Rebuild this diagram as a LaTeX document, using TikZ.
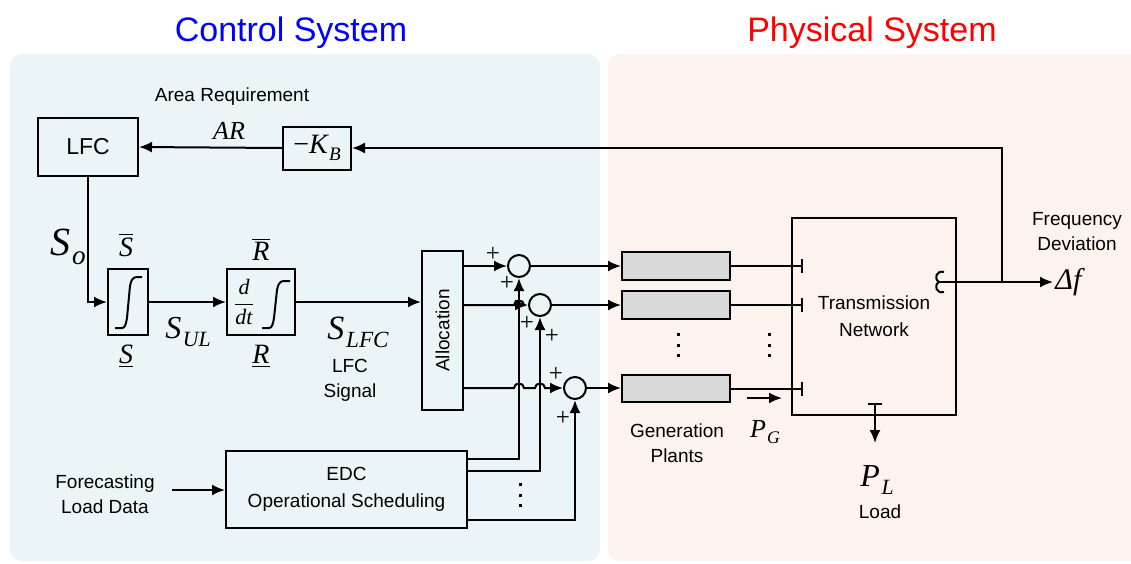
\documentclass[tikz,border=0pt]{standalone}
\usepackage{fontspec}
\setmainfont{Liberation Sans}
\newfontfamily\tms{Liberation Serif}
\usetikzlibrary{arrows.meta}
\definecolor{ctrlbg}{HTML}{EBF5F8}
\definecolor{physbg}{HTML}{FDF3EE}
\definecolor{genfill}{HTML}{D9D9D9}
% italic variable, with and without subscript
\newcommand\vi[2][14]{{\fontsize{#1}{#1}\tms\itshape #2}}
\newcommand\vsym[3][16]{{\fontsize{#1}{#1}\tms\itshape #2\kern0.05em\raisebox{-0.5ex}{\scalebox{0.68}{#3}}}}
\tikzset{
  blk/.style={draw, line width=1pt, inner sep=0pt, align=center, font=\fontsize{9.5}{13.5}\selectfont},
  gen/.style={blk, fill=genfill, minimum width=54pt, minimum height=14pt},
  sumc/.style={draw, circle, line width=1pt, minimum size=11pt, inner sep=0pt},
  sig/.style={line width=1pt, -{Latex[length=6.5pt,width=5.5pt]}},
  wire/.style={line width=1pt},
  tee/.style={line width=1pt, -{Bar[width=7pt,line width=1pt]}},
  lbl/.style={font=\fontsize{9.5}{12.5}\selectfont, align=center, inner sep=0pt},
  pls/.style={font=\fontsize{12.5}{12}\selectfont\tms, inner sep=0pt},
}
\begin{document}
\begin{tikzpicture}[x=0.5pt, y=-0.5pt]
  \useasboundingbox (0,0) rectangle (1131,563);
  % panels
  \fill[ctrlbg, rounded corners=6pt] (10,54) rectangle (600,561);
  \fill[physbg, rounded corners=6pt] (608,54) rectangle (1150,561);
  \node[text=blue, font=\fontsize{17}{17}\selectfont] (ctitle) at (291,33) {Control System};
  \node[text=red, font=\fontsize{17}{17}\selectfont] (ptitle) at (872,33) {Physical System};

  % control blocks
  \node[blk, minimum width=50pt, minimum height=29pt, font=\fontsize{11.5}{12}\selectfont] (lfc) at (88,147) {LFC};
  \node[blk, minimum width=34pt, minimum height=21.5pt] (kb) at (317,148) {\vsym[14]{{\upshape −}K}{B}};
  \node[lbl] (areq) at (232,97) {Area Requirement};
  \node (ar) at (229,131) {\vi[13]{AR}};
  \node[blk, minimum width=20pt, minimum height=33pt] (lim) at (128,302) {};
  \node[blk, minimum width=34pt, minimum height=33pt] (rate) at (261,302) {};
  \node[inner sep=0pt, font=\fontsize{11}{13}\selectfont] (ddt) at (244,302) {$\displaystyle\frac{\hbox{\tms\itshape d}}{\hbox{\tms\itshape dt}}$};
  \draw[wire] (115,328) -- (122,328) .. controls (125,328) and (126,324) .. (127,318) -- (130,286) .. controls (131,280) and (133,277) .. (137,277) -- (142,277);
  \draw[wire] (262,328) -- (269,328) .. controls (272,328) and (273,324) .. (274,318) -- (277,290) .. controls (278,284) and (280,281) .. (284,281) -- (290,281);
  \node[blk, minimum width=20.5pt, minimum height=79.5pt] (alloc) at (442.5,330.5) {\rotatebox{90}{Allocation}};
  \node[blk, minimum width=120.5pt, minimum height=38.5pt] (edc) at (346.5,489.5) {EDC\\Operational Scheduling};
  \node[sumc] (c1) at (519,266) {};
  \node[sumc] (c2) at (540,305) {};
  \node[sumc] (c3) at (575,388) {};

  % control labels
  \node (so) at (68,247) {\vsym[20]{S}{o}};
  \node (smax) at (126,245) {$\overline{\hbox{\vi{S}}}$};
  \node (smin) at (126,356) {\underline{\vi{S}}};
  \node (rmax) at (261,249) {$\overline{\hbox{\vi{R}}}$};
  \node (rmin) at (261,356) {\underline{\vi{R}}};
  \node (sul) at (188,332) {\vsym[16]{S}{UL}};
  \node (slfc) at (358,332) {\vsym[17]{S}{LFC}};
  \node[lbl] (lsig) at (350,380) {LFC\\Signal};
  \node[lbl] (fld) at (105,494) {Forecasting\\Load Data};
  \coordinate (fcin) at (172,490);
  \node[pls] (p1a) at (493,254) {+};
  \node[pls] (p1b) at (507,283) {+};
  \node[pls] (p2a) at (527,323) {+};
  \node[pls] (p2b) at (552,336) {+};
  \node[pls] (p3a) at (556,374) {+};
  \node[pls] (p3b) at (563,418) {+};

  % physical blocks
  \node[gen] (g1) at (676,266) {};
  \node[gen] (g2) at (676,305) {};
  \node[gen, minimum height=13.5pt] (g3) at (676,388.5) {};
  \node[blk, minimum width=82pt, minimum height=98.5pt] (tn) at (874,316.5) {Transmission\\Network};
  \node[lbl] (gp) at (677,443) {Generation\\Plants};
  \node (pg) at (765,432) {\vsym[13]{P}{G}};
  \node (pl) at (877,480) {\vsym[16]{P}{L}};
  \node[lbl] (load) at (880,512) {Load};
  \node[lbl] (fdev) at (1077,232) {Frequency\\Deviation};
  \node[anchor=west, inner sep=1pt] (df) at (1053,282) {\vi[15]{Δf}};

  % dots
  \foreach \dx/\dy in {678/345, 769/345, 520/495}
    \foreach \dd in {-10.5,0,10.5}
      \fill (\dx-1.5,\dy+\dd-1.5) rectangle ++(3,3);

  % signal lines
  \draw[sig] (kb.west) -- (lfc.east);
  \draw[sig] (lfc.south) |- (lim.west);
  \draw[sig] (lim.east) -- (rate.west);
  \draw[sig] (rate.east) -- (rate.east -| alloc.west);
  \draw[sig] (alloc.east |- c1) -- (c1.west);
  \draw[sig] (alloc.east |- c2) -- (514,305) .. controls (514,299) and (524,299) .. (524,305) -- (c2.west);
  \draw[sig] (alloc.east |- c3) -- (514,388) .. controls (514,382) and (524,382) .. (524,388)
    -- (535,388) .. controls (535,382) and (545,382) .. (545,388) -- (c3.west);
  \draw[sig] (edc.east |- 0,459) -| (c1.south);
  \draw[sig] (edc.east |- 0,471) -| (c2.south);
  \draw[sig] (edc.east |- 0,520) -| (c3.south);
  \draw[sig] (fcin) -- (fcin -| edc.west);
  \draw[sig] (c1.east) -- (g1.west);
  \draw[sig] (c2.east) -- (g2.west);
  \draw[sig] (c3.east) -- (c3.east -| g3.west);
  \draw[tee] (g1.east) -- ([xshift=6pt]tn.west |- g1.east);
  \draw[tee] (g2.east) -- ([xshift=6pt]tn.west |- g2.east);
  \draw[tee] (g3.east) -- ([xshift=6pt]tn.west |- g3.east);
  \coordinate (pga) at (747,398);
  \draw[sig] (pga) -- ++(35,0);
  \coordinate (lt) at (875,403);
  \coordinate (lb) at (875,443);
  \draw[line width=1pt, {Bar[width=7pt,line width=1pt]}-{Latex[length=6.5pt,width=5.5pt]}] (lt) -- (lb);

  % frequency feedback
  \draw[wire] (944,272) .. controls (937,270) and (933,278) .. (939,282)
    .. controls (933,286) and (937,294) .. (944,292);
  \coordinate (eps) at (939,282);
  \coordinate (fj) at (1002,282);
  \draw[sig] (eps) -- (df.west);
  \draw[sig] (fj) |- (kb.east);
\end{tikzpicture}
\end{document}
